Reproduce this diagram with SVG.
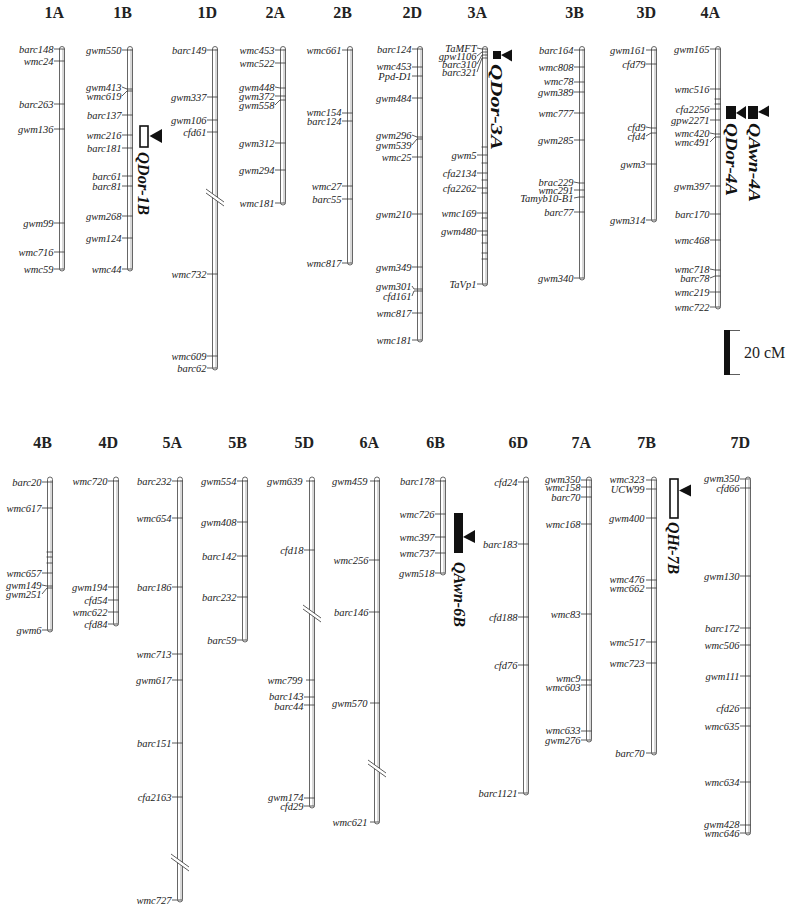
<svg xmlns="http://www.w3.org/2000/svg" width="791" height="910" viewBox="0 0 791 910">
<style>
.bar{fill:#fff;stroke:#555;stroke-width:0.9}
.sh{stroke:#c8c8c8;stroke-width:1.4}
.tk{stroke:#333;stroke-width:0.8;fill:none}
.ml{font-family:"Liberation Serif",serif;font-style:italic;font-size:10.5px;text-anchor:end;fill:#222}
.ch{font-family:"Liberation Serif",serif;font-weight:bold;font-size:16px;text-anchor:end;fill:#222}
.q{font-family:"Liberation Serif",serif;font-weight:bold;font-style:italic;font-size:16px;fill:#111}
.brk{stroke:#333;stroke-width:0.8}
</style>
<rect width="791" height="910" fill="#fff"/>

<g id="chr1A">
<text class="ch" x="64" y="18">1A</text>
<rect class="bar" x="59.5" y="46.5" width="5" height="224.5" rx="2.5"/>
<line class="sh" x1="63" y1="49" x2="63" y2="269"/>
<line class="tk" x1="54" y1="49" x2="64.5" y2="49"/><text class="ml" x="53.5" y="52.5">barc148</text>
<line class="tk" x1="54" y1="61" x2="64.5" y2="61"/><text class="ml" x="53.5" y="64.5">wmc24</text>
<line class="tk" x1="54" y1="104" x2="64.5" y2="104"/><text class="ml" x="53.5" y="107.5">barc263</text>
<line class="tk" x1="54" y1="129" x2="64.5" y2="129"/><text class="ml" x="53.5" y="132.5">gwm136</text>
<line class="tk" x1="54" y1="223" x2="64.5" y2="223"/><text class="ml" x="53.5" y="226.5">gwm99</text>
<line class="tk" x1="54" y1="252" x2="64.5" y2="252"/><text class="ml" x="53.5" y="255.5">wmc716</text>
<line class="tk" x1="54" y1="269" x2="64.5" y2="269"/><text class="ml" x="53.5" y="272.5">wmc59</text>
</g>

<g id="chr1B">
<text class="ch" x="132" y="18">1B</text>
<rect class="bar" x="127.5" y="46.5" width="5" height="224.5" rx="2.5"/>
<line class="sh" x1="131" y1="49" x2="131" y2="269"/>
<line class="tk" x1="122" y1="50" x2="132.5" y2="50"/><text class="ml" x="121.5" y="53.5">gwm550</text>
<polyline class="tk" points="122,87 127,89 132.5,89"/><text class="ml" x="121.5" y="90.5">gwm413</text>
<polyline class="tk" points="122,96 127,91 132.5,91"/><text class="ml" x="121.5" y="99.5">wmc619</text>
<line class="tk" x1="122" y1="115" x2="132.5" y2="115"/><text class="ml" x="121.5" y="118.5">barc137</text>
<line class="tk" x1="122" y1="135" x2="132.5" y2="135"/><text class="ml" x="121.5" y="138.5">wmc216</text>
<line class="tk" x1="122" y1="148" x2="132.5" y2="148"/><text class="ml" x="121.5" y="151.5">barc181</text>
<line class="tk" x1="122" y1="176" x2="132.5" y2="176"/><text class="ml" x="121.5" y="179.5">barc61</text>
<line class="tk" x1="122" y1="186" x2="132.5" y2="186"/><text class="ml" x="121.5" y="189.5">barc81</text>
<line class="tk" x1="122" y1="216" x2="132.5" y2="216"/><text class="ml" x="121.5" y="219.5">gwm268</text>
<line class="tk" x1="122" y1="238" x2="132.5" y2="238"/><text class="ml" x="121.5" y="241.5">gwm124</text>
<line class="tk" x1="122" y1="269" x2="132.5" y2="269"/><text class="ml" x="121.5" y="272.5">wmc44</text>
</g>

<g id="qtl-QDor-1B">
<rect x="140" y="126" width="8" height="21" fill="#fff" stroke="#111" stroke-width="1.6"/>
<polygon points="149.5,136 162,129 162,143" fill="#111"/>
<text class="q" transform="translate(138,152) rotate(90)" textLength="63" lengthAdjust="spacingAndGlyphs">QDor-1B</text>
</g>

<g id="chr1D">
<text class="ch" x="217" y="18">1D</text>
<rect class="bar" x="212.5" y="46.5" width="5" height="323.5" rx="2.5"/>
<line class="sh" x1="216" y1="49" x2="216" y2="368"/>
<polygon points="206,189 224,202 224,206 206,193" fill="#fff"/>
<line class="brk" x1="206" y1="189" x2="224" y2="202"/>
<line class="brk" x1="206" y1="193" x2="224" y2="206"/>
<line class="tk" x1="207" y1="50" x2="217.5" y2="50"/><text class="ml" x="206.5" y="53.5">barc149</text>
<line class="tk" x1="207" y1="97" x2="217.5" y2="97"/><text class="ml" x="206.5" y="100.5">gwm337</text>
<line class="tk" x1="207" y1="120" x2="217.5" y2="120"/><text class="ml" x="206.5" y="123.5">gwm106</text>
<line class="tk" x1="207" y1="132" x2="217.5" y2="132"/><text class="ml" x="206.5" y="135.5">cfd61</text>
<line class="tk" x1="207" y1="274" x2="217.5" y2="274"/><text class="ml" x="206.5" y="277.5">wmc732</text>
<line class="tk" x1="207" y1="356" x2="217.5" y2="356"/><text class="ml" x="206.5" y="359.5">wmc609</text>
<line class="tk" x1="207" y1="368" x2="217.5" y2="368"/><text class="ml" x="206.5" y="371.5">barc62</text>
</g>

<g id="chr2A">
<text class="ch" x="285" y="18">2A</text>
<rect class="bar" x="280.5" y="46.5" width="5" height="158.5" rx="2.5"/>
<line class="sh" x1="284" y1="49" x2="284" y2="203"/>
<line class="tk" x1="275" y1="50" x2="285.5" y2="50"/><text class="ml" x="274.5" y="53.5">wmc453</text>
<line class="tk" x1="275" y1="63" x2="285.5" y2="63"/><text class="ml" x="274.5" y="66.5">wmc522</text>
<polyline class="tk" points="275,87 280,88 285.5,88"/><text class="ml" x="274.5" y="90.5">gwm448</text>
<line class="tk" x1="275" y1="96" x2="285.5" y2="96"/><text class="ml" x="274.5" y="99.5">gwm372</text>
<polyline class="tk" points="275,105 280,100 285.5,100"/><text class="ml" x="274.5" y="108.5">gwm558</text>
<line class="tk" x1="275" y1="143" x2="285.5" y2="143"/><text class="ml" x="274.5" y="146.5">gwm312</text>
<line class="tk" x1="275" y1="170" x2="285.5" y2="170"/><text class="ml" x="274.5" y="173.5">gwm294</text>
<line class="tk" x1="275" y1="203" x2="285.5" y2="203"/><text class="ml" x="274.5" y="206.5">wmc181</text>
</g>

<g id="chr2B">
<text class="ch" x="352" y="18">2B</text>
<rect class="bar" x="347.5" y="46.5" width="5" height="218.5" rx="2.5"/>
<line class="sh" x1="351" y1="49" x2="351" y2="263"/>
<line class="tk" x1="342" y1="50" x2="352.5" y2="50"/><text class="ml" x="341.5" y="53.5">wmc661</text>
<line class="tk" x1="342" y1="113" x2="352.5" y2="113"/><text class="ml" x="341.5" y="116">wmc154</text>
<line class="tk" x1="342" y1="121" x2="352.5" y2="121"/><text class="ml" x="341.5" y="125">barc124</text>
<line class="tk" x1="342" y1="186" x2="352.5" y2="186"/><text class="ml" x="341.5" y="189.5">wmc27</text>
<line class="tk" x1="342" y1="199" x2="352.5" y2="199"/><text class="ml" x="341.5" y="202.5">barc55</text>
<line class="tk" x1="342" y1="263" x2="352.5" y2="263"/><text class="ml" x="341.5" y="266.5">wmc817</text>
</g>

<g id="chr2D">
<text class="ch" x="422" y="18">2D</text>
<rect class="bar" x="417.5" y="46.5" width="5" height="295.5" rx="2.5"/>
<line class="sh" x1="421" y1="49" x2="421" y2="340"/>
<line class="tk" x1="412" y1="49" x2="422.5" y2="49"/><text class="ml" x="411.5" y="52.5">barc124</text>
<line class="tk" x1="412" y1="67" x2="422.5" y2="67"/><text class="ml" x="411.5" y="70">wmc453</text>
<line class="tk" x1="412" y1="76" x2="422.5" y2="76"/><text class="ml" x="411.5" y="80">Ppd-D1</text>
<line class="tk" x1="412" y1="98" x2="422.5" y2="98"/><text class="ml" x="411.5" y="101.5">gwm484</text>
<polyline class="tk" points="412,135 417,137 422.5,137"/><text class="ml" x="411.5" y="138.5">gwm296</text>
<polyline class="tk" points="412,145 417,139 422.5,139"/><text class="ml" x="411.5" y="148.5">gwm539</text>
<line class="tk" x1="412" y1="157" x2="422.5" y2="157"/><text class="ml" x="411.5" y="160.5">wmc25</text>
<line class="tk" x1="412" y1="214" x2="422.5" y2="214"/><text class="ml" x="411.5" y="217.5">gwm210</text>
<line class="tk" x1="412" y1="267" x2="422.5" y2="267"/><text class="ml" x="411.5" y="270.5">gwm349</text>
<polyline class="tk" points="412,286 414,289 422.5,289"/><text class="ml" x="411.5" y="289.5">gwm301</text>
<polyline class="tk" points="412,296 414,291 422.5,291"/><text class="ml" x="411.5" y="299.5">cfd161</text>
<line class="tk" x1="412" y1="313" x2="422.5" y2="313"/><text class="ml" x="411.5" y="316.5">wmc817</text>
<line class="tk" x1="412" y1="340" x2="422.5" y2="340"/><text class="ml" x="411.5" y="343.5">wmc181</text>
</g>

<g id="chr3A">
<text class="ch" x="487" y="18">3A</text>
<rect class="bar" x="482.5" y="46.5" width="5" height="239.5" rx="2.5"/>
<line class="sh" x1="486" y1="49" x2="486" y2="284"/>
<polyline class="tk" points="477,48 482,49 487.5,49"/><text class="ml" x="476.5" y="51.5">TaMFT</text>
<polyline class="tk" points="477,56 482,52 487.5,52"/><text class="ml" x="476.5" y="59.5">gpw1106</text>
<polyline class="tk" points="477,64 482,55 487.5,55"/><text class="ml" x="476.5" y="67.5">barc310</text>
<polyline class="tk" points="477,72 482,58 487.5,58"/><text class="ml" x="476.5" y="75.5">barc321</text>
<line class="tk" x1="477" y1="155" x2="487.5" y2="155"/><text class="ml" x="476.5" y="158.5">gwm5</text>
<line class="tk" x1="477" y1="173" x2="487.5" y2="173"/><text class="ml" x="476.5" y="176.5">cfa2134</text>
<line class="tk" x1="477" y1="188" x2="487.5" y2="188"/><text class="ml" x="476.5" y="191.5">cfa2262</text>
<line class="tk" x1="477" y1="213" x2="487.5" y2="213"/><text class="ml" x="476.5" y="216.5">wmc169</text>
<line class="tk" x1="477" y1="231" x2="487.5" y2="231"/><text class="ml" x="476.5" y="234.5">gwm480</text>
<line class="tk" x1="477" y1="284" x2="487.5" y2="284"/><text class="ml" x="476.5" y="287.5">TaVp1</text>
<path class="tk" d="M481.5 147h6M481.5 163h6M481.5 180h6M481.5 193h6M481.5 218h6M481.5 235h6M481.5 243h6M481.5 253h6M481.5 259h6"/>
</g>

<g id="qtl-QDor-3A">
<rect x="493" y="51" width="8" height="8" fill="#111"/>
<polygon points="501,55 512,49.5 512,61.5" fill="#111"/>
<text class="q" transform="translate(491,64) rotate(90)" textLength="86" lengthAdjust="spacingAndGlyphs">QDor-3A</text>
</g>

<g id="chr3B">
<text class="ch" x="584" y="18">3B</text>
<rect class="bar" x="579.5" y="46.5" width="5" height="233.5" rx="2.5"/>
<line class="sh" x1="583" y1="49" x2="583" y2="278"/>
<line class="tk" x1="574" y1="50" x2="584.5" y2="50"/><text class="ml" x="573.5" y="53.5">barc164</text>
<line class="tk" x1="574" y1="67" x2="584.5" y2="67"/><text class="ml" x="573.5" y="70.5">wmc808</text>
<line class="tk" x1="574" y1="82" x2="584.5" y2="82"/><text class="ml" x="573.5" y="85">wmc78</text>
<line class="tk" x1="574" y1="92" x2="584.5" y2="92"/><text class="ml" x="573.5" y="96">gwm389</text>
<line class="tk" x1="574" y1="113" x2="584.5" y2="113"/><text class="ml" x="573.5" y="116.5">wmc777</text>
<line class="tk" x1="574" y1="140" x2="584.5" y2="140"/><text class="ml" x="573.5" y="143.5">gwm285</text>
<polyline class="tk" points="574,182 579,183 584.5,183"/><text class="ml" x="573.5" y="185.5">brac229</text>
<line class="tk" x1="574" y1="190" x2="584.5" y2="190"/><text class="ml" x="573.5" y="193.5">wmc291</text>
<polyline class="tk" points="574,198 579,197 584.5,197"/><text class="ml" x="573.5" y="201.5">Tamyb10-B1</text>
<line class="tk" x1="574" y1="212" x2="584.5" y2="212"/><text class="ml" x="573.5" y="215.5">barc77</text>
<line class="tk" x1="574" y1="278" x2="584.5" y2="278"/><text class="ml" x="573.5" y="281.5">gwm340</text>
</g>

<g id="chr3D">
<text class="ch" x="656" y="18">3D</text>
<rect class="bar" x="651.5" y="46.5" width="5" height="175.5" rx="2.5"/>
<line class="sh" x1="655" y1="49" x2="655" y2="220"/>
<line class="tk" x1="646" y1="50" x2="656.5" y2="50"/><text class="ml" x="645.5" y="53.5">gwm161</text>
<line class="tk" x1="646" y1="64" x2="656.5" y2="64"/><text class="ml" x="645.5" y="67.5">cfd79</text>
<polyline class="tk" points="646,127 651,128 656.5,128"/><text class="ml" x="645.5" y="130.5">cfd9</text>
<polyline class="tk" points="646,136 651,133 656.5,133"/><text class="ml" x="645.5" y="139.5">cfd4</text>
<line class="tk" x1="646" y1="164" x2="656.5" y2="164"/><text class="ml" x="645.5" y="167.5">gwm3</text>
<line class="tk" x1="646" y1="220" x2="656.5" y2="220"/><text class="ml" x="645.5" y="223.5">gwm314</text>
</g>

<g id="chr4A">
<text class="ch" x="720" y="18">4A</text>
<rect class="bar" x="715.5" y="46.5" width="5" height="262.5" rx="2.5"/>
<line class="sh" x1="719" y1="49" x2="719" y2="307"/>
<line class="tk" x1="710" y1="49" x2="720.5" y2="49"/><text class="ml" x="709.5" y="52.5">gwm165</text>
<line class="tk" x1="710" y1="89" x2="720.5" y2="89"/><text class="ml" x="709.5" y="92.5">wmc516</text>
<path class="tk" d="M714.5 99h6M714.5 104h6"/>
<line class="tk" x1="710" y1="109" x2="720.5" y2="109"/><text class="ml" x="709.5" y="112.5">cfa2256</text>
<line class="tk" x1="710" y1="120" x2="720.5" y2="120"/><text class="ml" x="709.5" y="123.5">gpw2271</text>
<polyline class="tk" points="710,133 715,134 720.5,134"/><text class="ml" x="709.5" y="136.5">wmc420</text>
<polyline class="tk" points="710,142 715,137 720.5,137"/><text class="ml" x="709.5" y="145.5">wmc491</text>
<line class="tk" x1="710" y1="186" x2="720.5" y2="186"/><text class="ml" x="709.5" y="189.5">gwm397</text>
<line class="tk" x1="710" y1="214" x2="720.5" y2="214"/><text class="ml" x="709.5" y="217.5">barc170</text>
<line class="tk" x1="710" y1="240" x2="720.5" y2="240"/><text class="ml" x="709.5" y="243.5">wmc468</text>
<polyline class="tk" points="710,269 715,270 720.5,270"/><text class="ml" x="709.5" y="272.5">wmc718</text>
<polyline class="tk" points="710,278 715,276 720.5,276"/><text class="ml" x="709.5" y="281.5">barc78</text>
<line class="tk" x1="710" y1="292" x2="720.5" y2="292"/><text class="ml" x="709.5" y="295.5">wmc219</text>
<line class="tk" x1="710" y1="307" x2="720.5" y2="307"/><text class="ml" x="709.5" y="310.5">wmc722</text>
</g>

<g id="qtl-QDor-4A">
<rect x="726" y="106" width="10" height="13" fill="#111"/>
<polygon points="736,113 746,106 746,119" fill="#111"/>
<text class="q" transform="translate(726,123) rotate(90)" textLength="73" lengthAdjust="spacingAndGlyphs">QDor-4A</text>
</g>

<g id="qtl-QAwn-4A">
<rect x="748" y="106" width="10" height="13" fill="#111"/>
<polygon points="758,112 769,105.5 769,117" fill="#111"/>
<text class="q" transform="translate(749,123) rotate(90)" textLength="79" lengthAdjust="spacingAndGlyphs">QAwn-4A</text>
</g>

<g id="scale-bar">
<rect x="724" y="330" width="6" height="45" fill="#111"/>
<path d="M730 330.5h10M730 374.5h10" stroke="#333" stroke-width="0.8"/>
<text x="744" y="358" font-family="Liberation Serif, serif" font-size="16" fill="#222">20 cM</text>
</g>

<g id="chr4B">
<text class="ch" x="52" y="448">4B</text>
<rect class="bar" x="47.5" y="477" width="5" height="155" rx="2.5"/>
<line class="sh" x1="51" y1="480" x2="51" y2="630"/>
<line class="tk" x1="42" y1="482" x2="52.5" y2="482"/><text class="ml" x="41.5" y="485.5">barc20</text>
<line class="tk" x1="42" y1="508" x2="52.5" y2="508"/><text class="ml" x="41.5" y="511.5">wmc617</text>
<path class="tk" d="M46.5 552h6M46.5 557h6M46.5 563h6"/>
<line class="tk" x1="42" y1="573" x2="52.5" y2="573"/><text class="ml" x="41.5" y="576.5">wmc657</text>
<polyline class="tk" points="42,585 47,586 52.5,586"/><text class="ml" x="41.5" y="588.5">gwm149</text>
<polyline class="tk" points="42,594 47,588 52.5,588"/><text class="ml" x="41.5" y="597.5">gwm251</text>
<line class="tk" x1="42" y1="630" x2="52.5" y2="630"/><text class="ml" x="41.5" y="633.5">gwm6</text>
</g>

<g id="chr4D">
<text class="ch" x="118" y="448">4D</text>
<rect class="bar" x="113.5" y="477" width="5" height="149" rx="2.5"/>
<line class="sh" x1="117" y1="480" x2="117" y2="624"/>
<line class="tk" x1="108" y1="481" x2="118.5" y2="481"/><text class="ml" x="107.5" y="484.5">wmc720</text>
<line class="tk" x1="108" y1="587" x2="118.5" y2="587"/><text class="ml" x="107.5" y="590.5">gwm194</text>
<line class="tk" x1="108" y1="600" x2="118.5" y2="600"/><text class="ml" x="107.5" y="603.5">cfd54</text>
<line class="tk" x1="108" y1="612" x2="118.5" y2="612"/><text class="ml" x="107.5" y="615.5">wmc622</text>
<line class="tk" x1="108" y1="624" x2="118.5" y2="624"/><text class="ml" x="107.5" y="627.5">cfd84</text>
</g>

<g id="chr5A">
<text class="ch" x="182" y="448">5A</text>
<rect class="bar" x="177.5" y="477" width="5" height="425" rx="2.5"/>
<line class="sh" x1="181" y1="480" x2="181" y2="900"/>
<polygon points="171,854 189,867 189,871 171,858" fill="#fff"/>
<line class="brk" x1="171" y1="854" x2="189" y2="867"/>
<line class="brk" x1="171" y1="858" x2="189" y2="871"/>
<line class="tk" x1="172" y1="481" x2="182.5" y2="481"/><text class="ml" x="171.5" y="484.5">barc232</text>
<line class="tk" x1="172" y1="518" x2="182.5" y2="518"/><text class="ml" x="171.5" y="521.5">wmc654</text>
<line class="tk" x1="172" y1="587" x2="182.5" y2="587"/><text class="ml" x="171.5" y="590.5">barc186</text>
<line class="tk" x1="172" y1="654" x2="182.5" y2="654"/><text class="ml" x="171.5" y="657.5">wmc713</text>
<line class="tk" x1="172" y1="680" x2="182.5" y2="680"/><text class="ml" x="171.5" y="683.5">gwm617</text>
<line class="tk" x1="172" y1="743" x2="182.5" y2="743"/><text class="ml" x="171.5" y="746.5">barc151</text>
<line class="tk" x1="172" y1="797" x2="182.5" y2="797"/><text class="ml" x="171.5" y="800.5">cfa2163</text>
<line class="tk" x1="172" y1="900" x2="182.5" y2="900"/><text class="ml" x="171.5" y="903.5">wmc727</text>
</g>

<g id="chr5B">
<text class="ch" x="247" y="448">5B</text>
<rect class="bar" x="242.5" y="477" width="5" height="165" rx="2.5"/>
<line class="sh" x1="246" y1="480" x2="246" y2="640"/>
<line class="tk" x1="237" y1="481" x2="247.5" y2="481"/><text class="ml" x="236.5" y="484.5">gwm554</text>
<line class="tk" x1="237" y1="522" x2="247.5" y2="522"/><text class="ml" x="236.5" y="525.5">gwm408</text>
<line class="tk" x1="237" y1="556" x2="247.5" y2="556"/><text class="ml" x="236.5" y="559.5">barc142</text>
<line class="tk" x1="237" y1="597" x2="247.5" y2="597"/><text class="ml" x="236.5" y="600.5">barc232</text>
<line class="tk" x1="237" y1="640" x2="247.5" y2="640"/><text class="ml" x="236.5" y="643.5">barc59</text>
</g>

<g id="chr5D">
<text class="ch" x="314" y="448">5D</text>
<rect class="bar" x="309.5" y="477" width="5" height="331" rx="2.5"/>
<line class="sh" x1="313" y1="480" x2="313" y2="806"/>
<polygon points="303,605 321,618 321,622 303,609" fill="#fff"/>
<line class="brk" x1="303" y1="605" x2="321" y2="618"/>
<line class="brk" x1="303" y1="609" x2="321" y2="622"/>
<line class="tk" x1="306" y1="481" x2="314.5" y2="481"/><text class="ml" x="302.5" y="484.5">gwm639</text>
<line class="tk" x1="304" y1="550" x2="314.5" y2="550"/><text class="ml" x="303.5" y="553.5">cfd18</text>
<line class="tk" x1="306" y1="680" x2="314.5" y2="680"/><text class="ml" x="302.5" y="683.5">wmc799</text>
<line class="tk" x1="304" y1="697" x2="314.5" y2="697"/><text class="ml" x="303.5" y="700">barc143</text>
<line class="tk" x1="304" y1="705" x2="314.5" y2="705"/><text class="ml" x="303.5" y="709.5">barc44</text>
<line class="tk" x1="304" y1="798" x2="314.5" y2="798"/><text class="ml" x="303.5" y="800.5">gwm174</text>
<line class="tk" x1="304" y1="806" x2="314.5" y2="806"/><text class="ml" x="303.5" y="809.5">cfd29</text>
</g>

<g id="chr6A">
<text class="ch" x="379" y="448">6A</text>
<rect class="bar" x="374.5" y="477" width="5" height="347" rx="2.5"/>
<line class="sh" x1="378" y1="480" x2="378" y2="822"/>
<polygon points="368,760 386,773 386,777 368,764" fill="#fff"/>
<line class="brk" x1="368" y1="760" x2="386" y2="773"/>
<line class="brk" x1="368" y1="764" x2="386" y2="777"/>
<line class="tk" x1="370" y1="481" x2="379.5" y2="481"/><text class="ml" x="367.5" y="484.5">gwm459</text>
<line class="tk" x1="369" y1="560" x2="379.5" y2="560"/><text class="ml" x="368.5" y="563.5">wmc256</text>
<line class="tk" x1="369" y1="612" x2="379.5" y2="612"/><text class="ml" x="368.5" y="615.5">barc146</text>
<line class="tk" x1="370" y1="703" x2="379.5" y2="703"/><text class="ml" x="367.5" y="706.5">gwm570</text>
<line class="tk" x1="370" y1="822" x2="379.5" y2="822"/><text class="ml" x="367.5" y="825.5">wmc621</text>
</g>

<g id="chr6B">
<text class="ch" x="445" y="448">6B</text>
<rect class="bar" x="440.5" y="477" width="5" height="98" rx="2.5"/>
<line class="sh" x1="444" y1="480" x2="444" y2="573"/>
<line class="tk" x1="435" y1="481" x2="445.5" y2="481"/><text class="ml" x="434.5" y="484.5">barc178</text>
<line class="tk" x1="435" y1="514" x2="445.5" y2="514"/><text class="ml" x="434.5" y="517.5">wmc726</text>
<line class="tk" x1="435" y1="537" x2="445.5" y2="537"/><text class="ml" x="434.5" y="540.5">wmc397</text>
<line class="tk" x1="435" y1="553" x2="445.5" y2="553"/><text class="ml" x="434.5" y="556.5">wmc737</text>
<line class="tk" x1="435" y1="573" x2="445.5" y2="573"/><text class="ml" x="434.5" y="576.5">gwm518</text>
</g>

<g id="qtl-QAwn-6B">
<rect x="454" y="513" width="9" height="40" fill="#111"/>
<polygon points="463,537 475,530 475,543" fill="#111"/>
<text class="q" transform="translate(454,562) rotate(90)" textLength="65" lengthAdjust="spacingAndGlyphs">QAwn-6B</text>
</g>

<g id="chr6D">
<text class="ch" x="528" y="448">6D</text>
<rect class="bar" x="523.5" y="477" width="5" height="318" rx="2.5"/>
<line class="sh" x1="527" y1="480" x2="527" y2="793"/>
<line class="tk" x1="518" y1="482" x2="528.5" y2="482"/><text class="ml" x="517.5" y="485.5">cfd24</text>
<line class="tk" x1="518" y1="544" x2="528.5" y2="544"/><text class="ml" x="517.5" y="547.5">barc183</text>
<line class="tk" x1="518" y1="617" x2="528.5" y2="617"/><text class="ml" x="517.5" y="620.5">cfd188</text>
<line class="tk" x1="518" y1="665" x2="528.5" y2="665"/><text class="ml" x="517.5" y="668.5">cfd76</text>
<line class="tk" x1="518" y1="793" x2="528.5" y2="793"/><text class="ml" x="517.5" y="796.5">barc1121</text>
</g>

<g id="chr7A">
<text class="ch" x="591" y="448">7A</text>
<rect class="bar" x="586.5" y="477" width="5" height="265" rx="2.5"/>
<line class="sh" x1="590" y1="480" x2="590" y2="740"/>
<line class="tk" x1="581" y1="480" x2="591.5" y2="480"/><text class="ml" x="580.5" y="482.5">gwm350</text>
<line class="tk" x1="581" y1="487" x2="591.5" y2="487"/><text class="ml" x="580.5" y="491">wmc158</text>
<line class="tk" x1="581" y1="497" x2="591.5" y2="497"/><text class="ml" x="580.5" y="500.5">barc70</text>
<line class="tk" x1="581" y1="524" x2="591.5" y2="524"/><text class="ml" x="580.5" y="527.5">wmc168</text>
<line class="tk" x1="581" y1="614" x2="591.5" y2="614"/><text class="ml" x="580.5" y="617.5">wmc83</text>
<line class="tk" x1="581" y1="680" x2="591.5" y2="680"/><text class="ml" x="580.5" y="681.5">wmc9</text>
<line class="tk" x1="581" y1="685" x2="591.5" y2="685"/><text class="ml" x="580.5" y="691">wmc603</text>
<line class="tk" x1="581" y1="731" x2="591.5" y2="731"/><text class="ml" x="580.5" y="734">wmc633</text>
<line class="tk" x1="581" y1="740" x2="591.5" y2="740"/><text class="ml" x="580.5" y="743.5">gwm276</text>
</g>

<g id="chr7B">
<text class="ch" x="656" y="448">7B</text>
<rect class="bar" x="651.5" y="477" width="5" height="278" rx="2.5"/>
<line class="sh" x1="655" y1="480" x2="655" y2="753"/>
<line class="tk" x1="646" y1="480" x2="656.5" y2="480"/><text class="ml" x="644.5" y="483">wmc323</text>
<line class="tk" x1="646" y1="489" x2="656.5" y2="489"/><text class="ml" x="644.5" y="492.5">UCW99</text>
<line class="tk" x1="646" y1="518" x2="656.5" y2="518"/><text class="ml" x="644.5" y="521.5">gwm400</text>
<line class="tk" x1="646" y1="580" x2="656.5" y2="580"/><text class="ml" x="644.5" y="582.5">wmc476</text>
<line class="tk" x1="646" y1="588" x2="656.5" y2="588"/><text class="ml" x="644.5" y="591.5">wmc662</text>
<line class="tk" x1="646" y1="642" x2="656.5" y2="642"/><text class="ml" x="644.5" y="645.5">wmc517</text>
<line class="tk" x1="646" y1="663" x2="656.5" y2="663"/><text class="ml" x="644.5" y="666.5">wmc723</text>
<line class="tk" x1="646" y1="753" x2="656.5" y2="753"/><text class="ml" x="644.5" y="756.5">barc70</text>
</g>

<g id="qtl-QHt-7B">
<rect x="670" y="479" width="8" height="39" fill="#fff" stroke="#111" stroke-width="1.6"/>
<polygon points="679,490.5 691,484.5 691,496.5" fill="#111"/>
<text class="q" transform="translate(668,522) rotate(90)" textLength="52" lengthAdjust="spacingAndGlyphs">QHt-7B</text>
</g>

<g id="chr7D">
<text class="ch" x="750" y="448">7D</text>
<rect class="bar" x="745.5" y="477" width="5" height="358" rx="2.5"/>
<line class="sh" x1="749" y1="480" x2="749" y2="833"/>
<line class="tk" x1="740" y1="479" x2="750.5" y2="479"/><text class="ml" x="739.5" y="482">gwm350</text>
<line class="tk" x1="740" y1="488" x2="750.5" y2="488"/><text class="ml" x="739.5" y="491.5">cfd66</text>
<line class="tk" x1="740" y1="576" x2="750.5" y2="576"/><text class="ml" x="739.5" y="579.5">gwm130</text>
<line class="tk" x1="740" y1="628" x2="750.5" y2="628"/><text class="ml" x="739.5" y="631.5">barc172</text>
<line class="tk" x1="740" y1="645" x2="750.5" y2="645"/><text class="ml" x="739.5" y="648.5">wmc506</text>
<line class="tk" x1="740" y1="676" x2="750.5" y2="676"/><text class="ml" x="739.5" y="679.5">gwm111</text>
<line class="tk" x1="740" y1="708" x2="750.5" y2="708"/><text class="ml" x="739.5" y="711.5">cfd26</text>
<line class="tk" x1="740" y1="726" x2="750.5" y2="726"/><text class="ml" x="739.5" y="729.5">wmc635</text>
<line class="tk" x1="740" y1="782" x2="750.5" y2="782"/><text class="ml" x="739.5" y="785.5">wmc634</text>
<line class="tk" x1="740" y1="825" x2="750.5" y2="825"/><text class="ml" x="739.5" y="827.5">gwm428</text>
<line class="tk" x1="740" y1="833" x2="750.5" y2="833"/><text class="ml" x="739.5" y="837">wmc646</text>
</g>

<g id="connectors"/>
</svg>
